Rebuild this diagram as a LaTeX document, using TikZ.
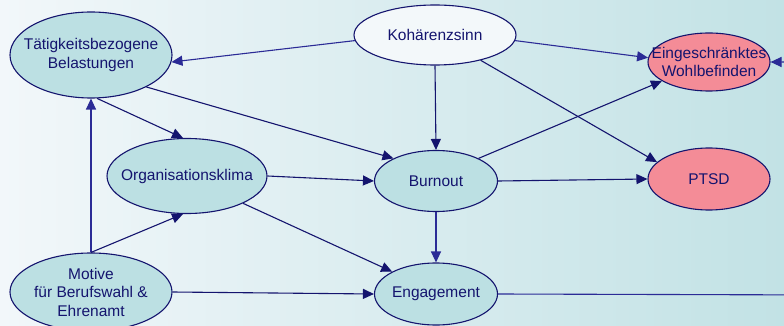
\documentclass[tikz,border=0pt]{standalone}
\usepackage{fontspec}
\setmainfont{Liberation Sans}
\usetikzlibrary{shapes.geometric,arrows.meta}
\definecolor{navy}{HTML}{14146E}
\definecolor{edgeblue}{HTML}{2B2B96}
\definecolor{tealfill}{HTML}{BCE0E3}
\definecolor{pinkfill}{HTML}{F48C97}
\definecolor{palefill}{HTML}{F3F8FA}
\definecolor{washleft}{HTML}{F2F7FA}
\definecolor{washright}{HTML}{C2E2E5}
\tikzset{
  x=1pt, y=-1pt,
  bubble/.style={ellipse, draw=navy, line width=1.1pt, inner sep=0pt,
    fill=tealfill},
  outcome/.style={bubble, fill=pinkfill},
  bubbletext/.style={text=navy, align=center, inner sep=0pt,
    font=\fontsize{15.5}{18.5}\selectfont},
  link/.style={draw=navy, line width=1.1pt,
    -{Triangle[length=11pt,width=10pt]}},
  lightlink/.style={link, draw=edgeblue, -{Triangle[length=11pt,width=10pt,fill=edgeblue]}},
}
\begin{document}
\begin{tikzpicture}
  \useasboundingbox (0,0) rectangle (784,326);
  \clip (0,0) rectangle (784,326);
  % background wash
  \shade[left color=washleft, right color=washright] (0,0) rectangle (784,326);

  % nodes: fixed-size ellipses, captions centred inside
  \node[bubble, minimum width=162pt, minimum height=86pt,
    label={[bubbletext]center:{Tätigkeitsbezogene\\Belastungen}}] (T) at (91,55) {};
  \node[bubble, fill=palefill, minimum width=162pt, minimum height=60pt,
    label={[bubbletext]center:{Kohärenzsinn}}] (K) at (435,35) {};
  \node[outcome, minimum width=122pt, minimum height=58pt,
    label={[bubbletext]center:{Eingeschränktes\\Wohlbefinden}}] (W) at (709,62) {};
  \node[outcome, minimum width=122pt, minimum height=62pt,
    label={[bubbletext]center:{PTSD}}] (P) at (709,179) {};
  \node[bubble, minimum width=160pt, minimum height=75pt,
    label={[bubbletext]center:{Organisationsklima}}] (O) at (187,176) {};
  \node[bubble, minimum width=123pt, minimum height=61pt,
    label={[bubbletext]center:{Burnout}}] (B) at (436,181) {};
  \node[bubble, minimum width=123pt, minimum height=62pt,
    label={[bubbletext]center:{Engagement}}] (E) at (436,294) {};
  \node[bubble, minimum width=162pt, minimum height=78pt,
    label={[bubbletext]center:{Motive\\für Berufswahl \&\\Ehrenamt}}] (M) at (91,292) {};

  % off-page routing of the feedback line
  \coordinate (r1) at (830,295);
  \coordinate (r2) at (830,62);

  % connectors
  \draw[lightlink] (K.184) -- (T.-5);
  \draw[lightlink] (K.-4) -- (W.176);
  \draw[link] (K.south) -- (B.north);
  \draw[link] (K.-29) -- (P.162);
  \draw[link] (T.-82) -- (O.96);
  \draw[link] (T.-30) -- (B.152);
  \draw[lightlink] (M.north) -- (T.south);
  \draw[link] (M.north) -- (O.264);
  \draw[link] (M.east) -- (E.west);
  \draw[link] (O.east) -- (B.west);
  \draw[link] (O.-26) -- (E.153);
  \draw[link] (B.28) -- (W.202);
  \draw[link] (B.east) -- (P.west);
  \draw[lightlink] (B.south) -- (E.north);
  \draw[lightlink] (E.east) -- (r1) -- (r2) -- (W.east);
\end{tikzpicture}
\end{document}
